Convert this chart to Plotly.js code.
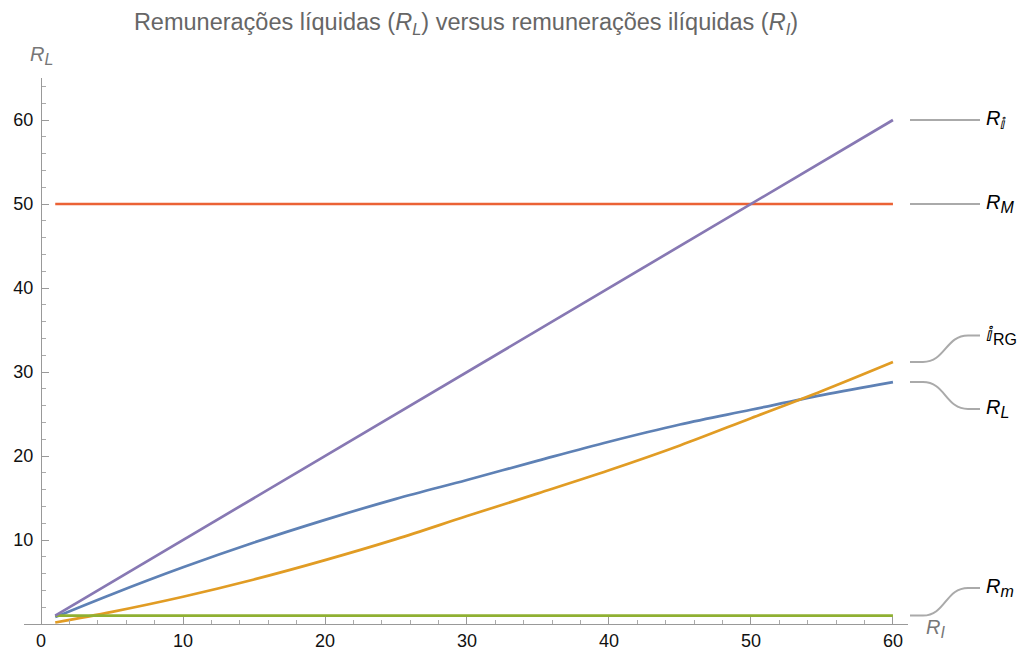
<!DOCTYPE html>
<html>
<head>
<meta charset="utf-8">
<script src="https://cdn.plot.ly/plotly-3.0.1.min.js"></script>
<style>html,body{margin:0;padding:0;background:#fff;}#chart{width:1025px;height:651px;}</style>
</head>
<body>
<div id="chart"></div>
<script>
// Data
const xRI = [1, 5, 10, 15, 20, 25, 30, 35, 40, 45, 50, 55, 60];
const rL = [0.82, 3.55, 6.75, 9.7, 12.4, 14.9, 17.15, 19.45, 21.7, 23.75, 25.5, 27.25, 28.8];
const iRG = [0.18, 1.45, 3.25, 5.3, 7.6, 10.1, 12.85, 15.55, 18.3, 21.25, 24.5, 27.75, 31.2];
const rIi = [1, 5, 10, 15, 20, 25, 30, 35, 40, 45, 50, 55, 60];
const xConst = [1, 60];
const rMin = [1, 1];
const rMax = [50, 50];
const xTicks = [0, 10, 20, 30, 40, 50, 60];
const yTicks = [10, 20, 30, 40, 50, 60];

const sub = (t) => `<sub><span style="font-size:16px">${t}</span></sub>`;
// Labels at the right: [text, curve end value, label value]
const labels = [
  ['<i>R</i>' + sub('ⅈ'), 60, 60],
  ['<i>R' + sub('M') + '</i>', 50, 50],
  ['ⅈ' + sub('RG'), 31.2, 34.35],
  ['<i>R' + sub('L') + '</i>', 28.8, 25.6],
  ['<i>R' + sub('m') + '</i>', 1, 4.3]
];

const C = {blue:'#5E81B5', orange:'#E19C24', green:'#8FB032', red:'#EB6235', purple:'#8778B3'};
const lw = 2.7;
const FONT = 'Liberation Sans, Arial, sans-serif';

const traces = [
  {x: xRI, y: rL, mode:'lines', line:{color:C.blue, width:lw, shape:'spline'}},
  {x: xRI, y: iRG, mode:'lines', line:{color:C.orange, width:lw, shape:'spline'}},
  {x: xConst, y: rMin, mode:'lines', line:{color:C.green, width:lw}},
  {x: xConst, y: rMax, mode:'lines', line:{color:C.red, width:lw}},
  {x: xRI, y: rIi, mode:'lines', line:{color:C.purple, width:lw}}
];

const L = 24, R = 117, T = 78, B = 27, W = 1025 - L - R, H = 651 - T - B;
const yMax = 65;
const px2fx = p => (p - L) / W;
const v2fy = v => v / yMax;

const shapes = labels.map(l => {
  const x0 = px2fx(910), x1 = px2fx(923), x2 = px2fx(968), x3 = px2fx(980);
  const xm = (x1 + x2) / 2;
  const y0 = v2fy(l[1]), y1 = v2fy(l[2]);
  return {type:'path', xref:'paper', yref:'paper',
    path:`M ${x0},${y0} L ${x1},${y0} C ${xm},${y0} ${xm},${y1} ${x2},${y1} L ${x3},${y1}`,
    line:{color:'#AAAAAA', width:2}};
});

const annotations = labels.map(l => ({
  xref:'paper', yref:'paper', x: px2fx(984), y: v2fy(l[2]), xanchor:'left', yanchor:'middle',
  text: l[0], showarrow:false, font:{family:FONT, size:20, color:'#000'}
}));
annotations.push({xref:'paper', yref:'paper', x: px2fx(41), y: 1, xanchor:'center', yanchor:'bottom', yshift:8,
  text:'<i>R' + sub('L') + '</i>', showarrow:false, font:{family:FONT, size:20, color:'#777'}});
annotations.push({xref:'paper', yref:'paper', x: px2fx(924), y: 0, xanchor:'left', yanchor:'middle', yshift:-4,
  text:'<i>R' + sub('I') + '</i>', showarrow:false, font:{family:FONT, size:20, color:'#777'}});

const layout = {
  width:1025, height:651,
  margin:{l:L, r:R, t:T, b:B, pad:0},
  paper_bgcolor:'#fff', plot_bgcolor:'#fff',
  showlegend:false,
  title:{text:'Remunerações líquidas (<i>R<sub>L</sub></i>) versus remunerações ilíquidas (<i>R<sub>I</sub></i>)',
    x:0.5, xref:'paper', xanchor:'center', y:1 - 22/651, yref:'container', yanchor:'middle',
    font:{family:FONT, size:23.5, color:'#666'}},
  xaxis:{range:[-1.2, 61.06], domain:[0,1], showgrid:false, zeroline:false,
    showline:true, linecolor:'#999', linewidth:1.2,
    tickmode:'array', tickvals:xTicks, ticks:'inside', ticklen:7, tickcolor:'#999', tickwidth:1,
    minor:{dtick:2, tick0:0, ticks:'inside', ticklen:4, tickcolor:'#aaa', tickwidth:1, showgrid:false},
    tickfont:{family:FONT, size:18, color:'#111'},
    fixedrange:true},
  yaxis:{range:[0, yMax], anchor:'free', position:px2fx(41), showgrid:false, zeroline:false,
    showline:true, linecolor:'#999', linewidth:1.2,
    tickmode:'array', tickvals:yTicks, ticks:'inside', ticklen:7, tickcolor:'#999', tickwidth:1,
    minor:{dtick:2, tick0:0, ticks:'inside', ticklen:4, tickcolor:'#aaa', tickwidth:1, showgrid:false},
    tickfont:{family:FONT, size:18, color:'#111'},
    ticklabelstandoff:4,
    fixedrange:true},
  shapes: shapes,
  annotations: annotations
};

Plotly.newPlot('chart', traces, layout, {displayModeBar:false, staticPlot:true});
</script>
</body>
</html>
